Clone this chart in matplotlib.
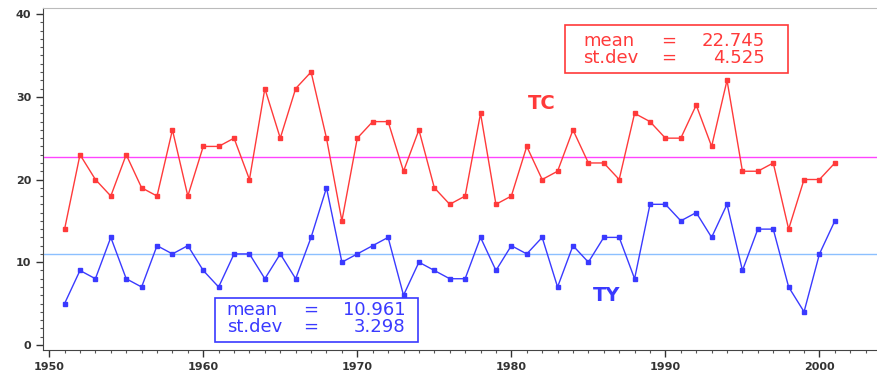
import numpy as np
import matplotlib.pyplot as plt
from matplotlib.patches import Rectangle
from matplotlib.ticker import MultipleLocator

years = list(range(1951, 2002))
tc = [14, 23, 20, 18, 23, 19, 18, 26, 18, 24,
      24, 25, 20, 31, 25, 31, 33, 25, 15, 25,
      27, 27, 21, 26, 19, 17, 18, 28, 17, 18,
      24, 20, 21, 26, 22, 22, 20, 28, 27, 25,
      25, 29, 24, 32, 21, 21, 22, 14, 20, 20,
      22]
ty = [5, 9, 8, 13, 8, 7, 12, 11, 12, 9,
      7, 11, 11, 8, 11, 8, 13, 19, 10, 11,
      12, 13, 6, 10, 9, 8, 8, 13, 9, 12,
      11, 13, 7, 12, 10, 13, 13, 8, 17, 17,
      15, 16, 13, 17, 9, 14, 14, 7, 4, 11,
      15]

tc_mean, tc_sd = np.mean(tc), np.std(tc, ddof=1)
ty_mean, ty_sd = np.mean(ty), np.std(ty, ddof=1)

red = '#ff3a3a'
blue = '#3a3aff'

fig = plt.figure(figsize=(8.78, 3.71), dpi=100)
ax = fig.add_axes([0.049, 0.057, 0.951, 0.921])

# mean lines
ax.axhline(tc_mean, color='#ff44ff', lw=1)
ax.axhline(ty_mean, color='#8cc0ff', lw=1)

ax.plot(years, tc, color=red, lw=1, marker='s', ms=2.5)
ax.plot(years, ty, color=blue, lw=1, marker='s', ms=2.5)

ax.set_xlim(1949.6, 2003.8)
ax.set_ylim(-0.6, 40.72)
ax.xaxis.set_major_locator(MultipleLocator(10))
ax.xaxis.set_minor_locator(MultipleLocator(1))
ax.yaxis.set_major_locator(MultipleLocator(10))
ax.yaxis.set_minor_locator(MultipleLocator(1))
ax.tick_params(which='major', length=5, width=1, labelsize=8, colors='#333333')
ax.tick_params(which='minor', length=2.5, width=0.8, color='#555555')
for lbl in ax.get_xticklabels() + ax.get_yticklabels():
    lbl.set_fontweight('bold')

ax.spines['right'].set_visible(False)
ax.spines['top'].set_color('#bbbbbb')
ax.spines['left'].set_color('#444444')
ax.spines['bottom'].set_color('#444444')

ax.text(1982.0, 29.2, 'TC', color=red, fontsize=14, fontweight='bold',
        ha='center', va='center')
ax.text(1986.2, 6.0, 'TY', color=blue, fontsize=14, fontweight='bold',
        ha='center', va='center')


def stat_box(x0, y0, x1, y1, xs, yc, mean, sd, color):
    # box and three text columns, placed in axes fractions
    ax.add_patch(Rectangle((x0, y0), x1 - x0, y1 - y0, transform=ax.transAxes,
                           fc='white', ec=color, lw=1.2, zorder=5))
    kw = dict(transform=ax.transAxes, color=color, fontsize=13, va='center',
              linespacing=0.95, zorder=6)
    ax.text(xs[0], yc, 'mean\nst.dev', ha='left', **kw)
    ax.text(xs[1], yc, '=\n=', ha='center', **kw)
    ax.text(xs[2], yc, '%.3f\n%.3f' % (mean, sd), ha='right',
            multialignment='right', **kw)


stat_box(0.625, 0.810, 0.892, 0.950, (0.647, 0.749, 0.864), 0.880,
         tc_mean, tc_sd, red)
stat_box(0.206, 0.023, 0.449, 0.152, (0.220, 0.320, 0.434), 0.092,
         ty_mean, ty_sd, blue)

fig.savefig('out.png', dpi=100)
